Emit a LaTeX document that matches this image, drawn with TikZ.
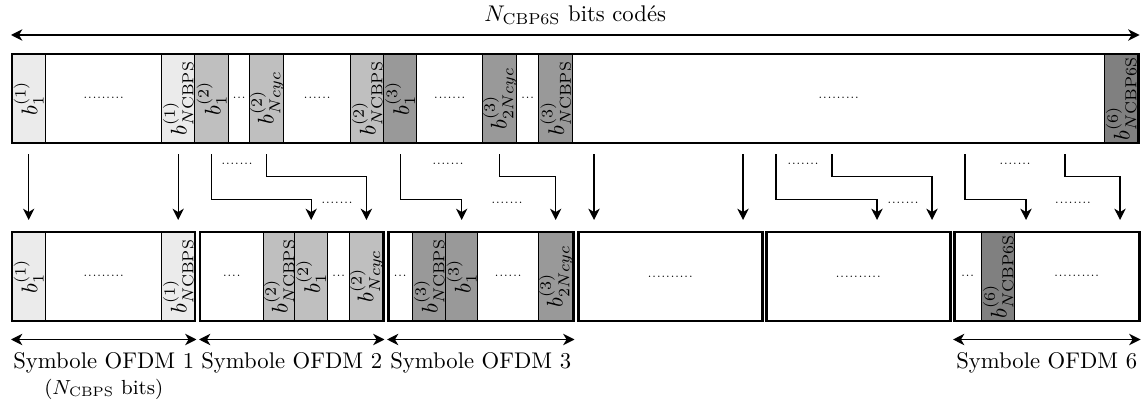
\documentclass[tikz,border=0pt]{standalone}
\usepackage{xcolor}
\usepackage{tikz}
\usepackage{amsmath}
\usetikzlibrary{arrows.meta, positioning, calc}
\definecolor{symone}{RGB}{235, 235, 235}
\definecolor{symtwo}{RGB}{191, 191, 191}
\definecolor{symthree}{RGB}{153, 153, 153}
\definecolor{symsix}{RGB}{128, 128, 128}
\newlength{\pxu}
\setlength{\pxu}{0.0155cm}

\begin{document}
\begin{tikzpicture}[x=0.0155cm, y=-0.0155cm,
    cell/.style={draw, line width=0.6pt, anchor=north west, inner sep=0pt, minimum height=89\pxu},
    symframe/.style={cell, line width=1.1pt},
    arr/.style={-{Stealth[length=5pt, width=5pt, inset=1.5pt]}, semithick, shorten <=11\pxu, shorten >=11\pxu},
    spanarr/.style={{Stealth[length=5pt, width=5pt, inset=1.5pt]}-{Stealth[length=5pt, width=5pt, inset=1.5pt]}, semithick}]
    \useasboundingbox (0,0) rectangle (1144,400);

    % bits codes (top bar)
    \node[cell, fill=symone, minimum width=34\pxu] (t1a) at (11,53) {\rotatebox{90}{$b^{(1)}_1$}};
    \node[cell, minimum width=116\pxu] (t1d) at (45,53) {\tiny .........};
    \node[cell, fill=symone, minimum width=33\pxu] (t1b) at (161,53) {\rotatebox{90}{$b^{(1)}_{N\mathrm{CBPS}}$}};
    \node[cell, fill=symtwo, minimum width=34\pxu] (t2a) at (194,53) {\rotatebox{90}{$b^{(2)}_1$}};
    \node[cell, minimum width=21\pxu] (t2d) at (228,53) {\tiny ...};
    \node[cell, fill=symtwo, minimum width=34\pxu] (t2b) at (249,53) {\rotatebox{90}{$b^{(2)}_{Ncyc}$}};
    \node[cell, minimum width=67\pxu] (t2e) at (283,53) {\tiny ......};
    \node[cell, fill=symtwo, minimum width=33\pxu] (t2c) at (350,53) {\rotatebox{90}{$b^{(2)}_{N\mathrm{CBPS}}$}};
    \node[cell, fill=symthree, minimum width=33\pxu] (t3a) at (383,53) {\rotatebox{90}{$b^{(3)}_1$}};
    \node[cell, minimum width=66\pxu] (t3d) at (416,53) {\tiny .......};
    \node[cell, fill=symthree, minimum width=34\pxu] (t3b) at (482,53) {\rotatebox{90}{$b^{(3)}_{2Ncyc}$}};
    \node[cell, minimum width=22\pxu] (t3e) at (516,53) {\tiny ...};
    \node[cell, fill=symthree, minimum width=34\pxu] (t3c) at (538,53) {\rotatebox{90}{$b^{(3)}_{N\mathrm{CBPS}}$}};
    \node[cell, minimum width=532\pxu] (t6d) at (572,53) {\tiny .........};
    \node[cell, fill=symsix, minimum width=33\pxu] (t6a) at (1104,53) {\rotatebox{90}{$b^{(6)}_{N\mathrm{CBP6S}}$}};
    \node[symframe, minimum width=1126\pxu] (bar) at (11,53) {};

    % symboles OFDM (bottom row)
    \node[cell, fill=symone, minimum width=34\pxu] (b1a) at (11,231) {\rotatebox{90}{$b^{(1)}_1$}};
    \node[cell, minimum width=116\pxu] (b1d) at (45,231) {\tiny .........};
    \node[cell, fill=symone, minimum width=33\pxu] (b1b) at (161,231) {\rotatebox{90}{$b^{(1)}_{N\mathrm{CBPS}}$}};
    \node[symframe, minimum width=183\pxu] (s1) at (11,231) {};

    \node[cell, minimum width=64\pxu] (b2d) at (199,231) {\tiny ....};
    \node[cell, fill=symtwo, minimum width=31\pxu] (b2c) at (263,231) {\rotatebox{90}{$b^{(2)}_{N\mathrm{CBPS}}$}};
    \node[cell, fill=symtwo, minimum width=33\pxu] (b2a) at (294,231) {\rotatebox{90}{$b^{(2)}_1$}};
    \node[cell, minimum width=22\pxu] (b2e) at (327,231) {\tiny ...};
    \node[cell, fill=symtwo, minimum width=33\pxu] (b2b) at (349,231) {\rotatebox{90}{$b^{(2)}_{Ncyc}$}};
    \node[symframe, minimum width=183\pxu] (s2) at (199,231) {};

    \node[cell, minimum width=25\pxu] (b3d) at (387,231) {\tiny ...};
    \node[cell, fill=symthree, minimum width=33\pxu] (b3c) at (412,231) {\rotatebox{90}{$b^{(3)}_{N\mathrm{CBPS}}$}};
    \node[cell, fill=symthree, minimum width=32\pxu] (b3a) at (445,231) {\rotatebox{90}{$b^{(3)}_1$}};
    \node[cell, minimum width=61\pxu] (b3e) at (477,231) {\tiny ......};
    \node[cell, fill=symthree, minimum width=34\pxu] (b3b) at (538,231) {\rotatebox{90}{$b^{(3)}_{2Ncyc}$}};
    \node[symframe, minimum width=185\pxu] (s3) at (387,231) {};

    \node[symframe, minimum width=184\pxu] (s4) at (577,231) {\tiny ..........};
    \node[symframe, minimum width=184\pxu] (s5) at (765,231) {\tiny ..........};

    \node[cell, minimum width=28\pxu] (b6d) at (953,231) {\tiny ...};
    \node[cell, fill=symsix, minimum width=33\pxu] (b6a) at (981,231) {\rotatebox{90}{$b^{(6)}_{N\mathrm{CBP6S}}$}};
    \node[cell, minimum width=124\pxu] (b6e) at (1014,231) {\tiny ..........};
    \node[symframe, minimum width=185\pxu] (s6) at (953,231) {};

    % entrelacement
    \draw[arr] (t1a) -- (b1a);
    \draw[arr] (t1b) -- (b1b);
    \draw[arr] (t2a.south) -- ++(0,56) -| (b2a.north);
    \draw[arr] (t2b.south) -- ++(0,33) -| (b2b.north);
    \draw[arr] (t3a.south) -- ++(0,56) -| (b3a.north);
    \draw[arr] (t3b.south) -- ++(0,33) -| (b3b.north);
    \coordinate (x4a) at (594,0);
    \coordinate (x4b) at (743,0);
    \coordinate (x5a) at (776,0);
    \coordinate (x5b) at (877,0);
    \coordinate (x5c) at (832,0);
    \coordinate (x5d) at (932,0);
    \coordinate (x6a) at (965,0);
    \coordinate (x6b) at (1026,0);
    \coordinate (x6c) at (1065,0);
    \coordinate (x6d) at (1120,0);
    \draw[arr] (t6d.south -| x4a) -- (s4.north -| x4a);
    \draw[arr] (t6d.south -| x4b) -- (s4.north -| x4b);
    \draw[arr] (t6d.south -| x5a) -- ++(0,56) -| (s5.north -| x5b);
    \draw[arr] (t6d.south -| x5c) -- ++(0,33) -| (s5.north -| x5d);
    \draw[arr] (t6d.south -| x6a) -- ++(0,56) -| (s6.north -| x6b);
    \draw[arr] (t6d.south -| x6c) -- ++(0,33) -| (s6.north -| x6d);
    \node[font=\tiny] (g2a) at (237,164) {.......};
    \node[font=\tiny] (g2b) at (337,203) {.......};
    \node[font=\tiny] (g3a) at (448,164) {.......};
    \node[font=\tiny] (g3b) at (507,203) {.......};
    \node[font=\tiny] (g5a) at (803,164) {.......};
    \node[font=\tiny] (g5b) at (903,203) {.......};
    \node[font=\tiny] (g6a) at (1015,164) {.......};
    \node[font=\tiny] (g6b) at (1073,203) {........};

    % longueurs
    \draw[spanarr] ([yshift=18\pxu]bar.north west) -- ([yshift=18\pxu]bar.north east);
    \node (total) at ([yshift=38\pxu]bar.north) {$N_\mathrm{CBP6S}$ bits cod\'es};
    \draw[spanarr] ([yshift=-17\pxu]s1.south west) -- ([yshift=-17\pxu]s1.south east);
    \draw[spanarr] ([yshift=-17\pxu]s2.south west) -- ([yshift=-17\pxu]s2.south east);
    \draw[spanarr] ([yshift=-17\pxu]s3.south west) -- ([yshift=-17\pxu]s3.south east);
    \draw[spanarr] ([yshift=-17\pxu]s6.south west) -- ([yshift=-17\pxu]s6.south east);
    \node (l1) at ([yshift=-40\pxu]s1.south) {Symbole OFDM 1};
    \node (l2) at ([yshift=-40\pxu]s2.south) {Symbole OFDM 2};
    \node (l3) at ([yshift=-40\pxu]s3.south) {Symbole OFDM 3};
    \node (l6) at ([yshift=-40\pxu]s6.south) {Symbole OFDM 6};
    \node[font=\small] (nbits) at ([yshift=-67\pxu]s1.south) {($N_\mathrm{CBPS}$ bits)};
\end{tikzpicture}
\end{document}
